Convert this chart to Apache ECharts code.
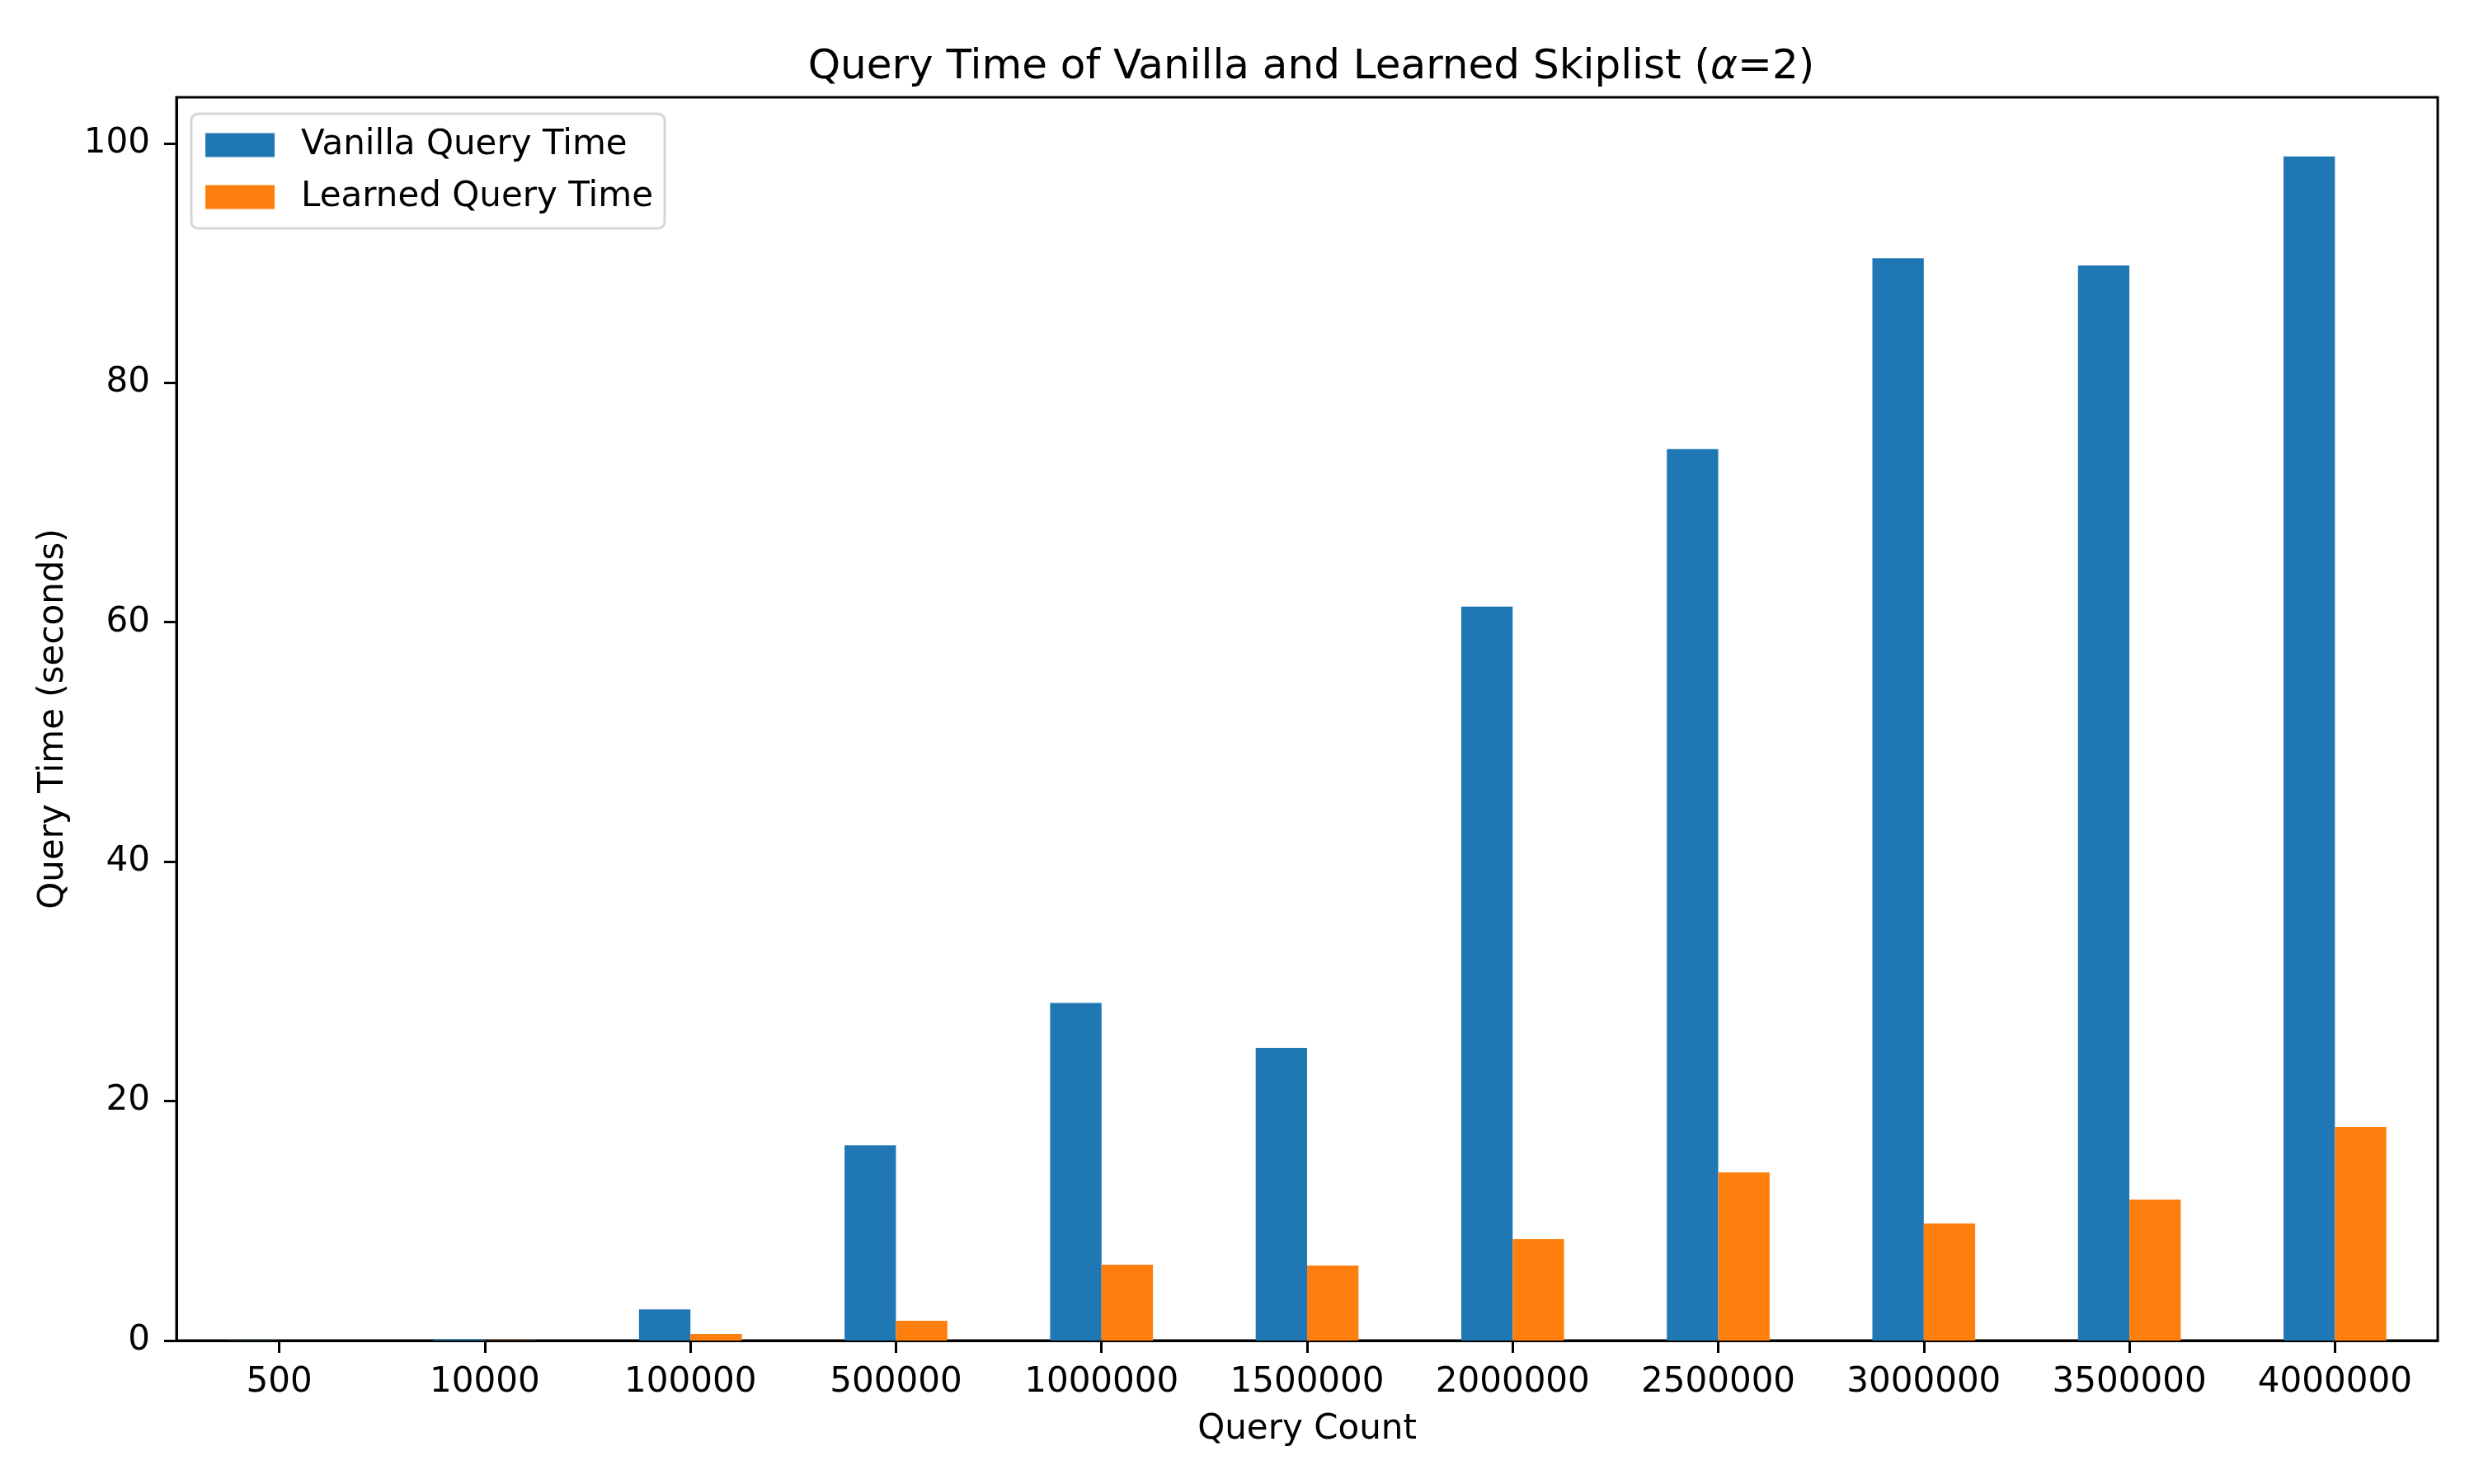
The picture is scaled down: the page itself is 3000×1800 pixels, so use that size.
<!DOCTYPE html>
<html>
<head>
<meta charset="utf-8">
<script src="https://cdn.jsdelivr.net/npm/echarts@6/dist/echarts.min.js"></script>
<style>
html,body{margin:0;padding:0;background:#fff;}
#chart{width:3000px;height:1800px;}
</style>
</head>
<body>
<div id="chart"></div>
<script>
const categories = ['500','10000','100000','500000','1000000','1500000','2000000','2500000','3000000','3500000','4000000'];
const vanilla = [0.01, 0.1, 2.6, 16.3, 28.2, 24.45, 61.3, 74.45, 90.4, 89.8, 98.9];
const learned = [0.005, 0.02, 0.55, 1.65, 6.34, 6.27, 8.47, 14.05, 9.78, 11.78, 17.84];
const yTicks = [0, 20, 40, 60, 80, 100];

const FONT = 'DejaVu Sans';
const chart = echarts.init(document.getElementById('chart'), null, {renderer: 'canvas'});
const yMax = Math.max(...vanilla) * 1.05;

chart.setOption({
  animation: false,
  backgroundColor: '#ffffff',
  textStyle: {fontFamily: FONT, color: '#000'},
  title: {
    text: '{a|Query Time of Vanilla and Learned Skiplist (}{i|α}{a|=2)}',
    left: 1585,
    textAlign: 'center',
    top: 52,
    textStyle: {
      fontWeight: 'normal',
      rich: {
        a: {fontFamily: FONT, fontSize: 50, fontWeight: 'normal', color: '#000'},
        i: {fontFamily: FONT, fontSize: 50, fontWeight: 'normal', fontStyle: 'italic', color: '#000'}
      }
    }
  },
  legend: {
    orient: 'vertical',
    left: 232,
    top: 138,
    padding: [17, 14, 17, 17],
    itemWidth: 84,
    itemHeight: 29,
    itemGap: 21,
    icon: 'rect',
    backgroundColor: 'rgba(255,255,255,0.8)',
    borderColor: '#d6d6d6',
    borderWidth: 3,
    borderRadius: 8,
    textStyle: {fontFamily: FONT, fontSize: 42, color: '#000', lineHeight: 42, padding: [0, 0, 0, 27]},
    data: ['Vanilla Query Time', 'Learned Query Time']
  },
  grid: {
    left: 214, right: 44, top: 118, bottom: 174,
    show: true, borderColor: '#000', borderWidth: 3, backgroundColor: 'transparent'
  },
  xAxis: {
    type: 'category',
    data: categories,
    name: 'Query Count',
    nameLocation: 'middle',
    nameGap: 87,
    nameTextStyle: {fontFamily: FONT, fontSize: 42, color: '#000'},
    axisLine: {show: true, lineStyle: {color: '#000', width: 3}},
    axisTick: {show: true, alignWithLabel: true, length: 15, lineStyle: {color: '#000', width: 3}},
    axisLabel: {fontFamily: FONT, fontSize: 42, color: '#000', margin: 30},
    splitLine: {show: false}
  },
  yAxis: {
    type: 'value',
    min: 0,
    max: yMax,
    interval: 20,
    name: 'Query Time (seconds)',
    nameLocation: 'middle',
    nameGap: 128,
    nameTextStyle: {fontFamily: FONT, fontSize: 42, color: '#000'},
    axisLine: {show: true, lineStyle: {color: '#000', width: 3}},
    axisTick: {show: true, length: 15, lineStyle: {color: '#000', width: 3}},
    axisLabel: {
      fontFamily: FONT, fontSize: 42, color: '#000', margin: 32,
      showMaxLabel: false,
      formatter: v => (yTicks.indexOf(Math.round(v * 1000) / 1000) >= 0 ? String(v) : '')
    },
    splitLine: {show: false}
  },
  series: [
    {
      name: 'Vanilla Query Time', type: 'bar', data: vanilla,
      barWidth: '25%', barGap: '0%',
      itemStyle: {color: '#1f77b4'}
    },
    {
      name: 'Learned Query Time', type: 'bar', data: learned,
      barWidth: '25%', barGap: '0%',
      itemStyle: {color: '#ff7f0e'}
    }
  ]
});
</script>
</body>
</html>
